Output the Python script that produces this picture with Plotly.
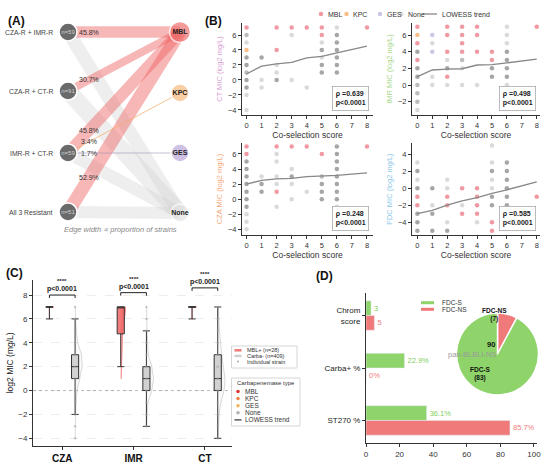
import numpy as np
import plotly.graph_objects as go

W, H = 550, 467
FONT = 'Liberation Sans'

# ---------------- Panel A data ----------------
GROUPS = ['CZA-R + IMR-R', 'CZA-R + CT-R', 'IMR-R + CT-R', 'All 3 Resistant']
GROUP_N = [59, 91, 59, 51]
TYPES = ['MBL', 'KPC', 'GES', 'None']
PCT_MBL = [45.8, 30.7, 45.8, 52.9]
PCT_KPC = [0, 0, 3.4, 0]
PCT_GES = [0, 0, 1.7, 0]
PCT_NONE = [54.2, 69.3, 49.1, 47.1]

# ---------------- Panel B data (score, log2 MIC) ----------------
SCORE_TICKS = list(range(9))
CT_MBL = [(0, 7), (2, 7), (3, 7), (4, 7), (5, 7), (8, 7), (5, 6), (2, 4)]
CT_KPC = [(0, 4)]
CT_GES = []
CT_NONE = [(6, 7, 1), (0, 6, 2), (3, 6, 1), (6, 6, 3), (0, 5, 1), (5, 5, 1), (6, 5, 3),
           (5, 4, 3), (6, 4, 3), (0, 3, 3), (1, 3, 3), (5, 3, 1), (6, 3, 3), (0, 2, 3),
           (2, 2, 1), (5, 2, 3), (6, 2, 3), (0, 1, 2), (2, 1, 1), (5, 1, 3), (6, 1, 3),
           (0, 0, 3), (1, 0, 1), (2, 0, 3), (3, 0, 1), (0, -1, 3), (1, -1, 1), (4, -1, 1),
           (0, -2, 1), (0, -4, 1)]

IMR_MBL = [(0, 7), (2, 7), (3, 7), (4, 7), (8, 7), (2, 6), (3, 6), (4, 6), (0, 5), (3, 5),
           (2, 4), (3, 4), (4, 4), (5, 4), (0, 3), (5, 3), (2, 1)]
IMR_KPC = [(0, 6)]
IMR_GES = [(1, 6), (1, 4)]
IMR_NONE = [(6, 7, 1), (6, 6, 1), (1, 5, 1), (6, 5, 1), (0, 4, 3), (6, 4, 3), (2, 3, 1),
            (3, 3, 2), (6, 3, 3), (0, 2, 3), (2, 2, 3), (3, 2, 1), (5, 2, 3), (6, 2, 3),
            (0, 1, 3), (1, 1, 1), (5, 1, 3), (6, 1, 3), (0, 0, 2), (1, 0, 1), (2, 0, 1),
            (3, 0, 1), (4, 0, 1), (6, 0, 1), (0, -1, 2), (0, -2, 2), (0, -3, 1)]

CZA_MBL = [(0, 7), (2, 7), (3, 7), (4, 7), (8, 7), (0, 6), (5, 6), (2, 1)]
CZA_KPC = []
CZA_GES = []
CZA_NONE = [(6, 7, 3), (2, 6, 1), (6, 6, 3), (0, 5, 3), (2, 5, 1), (6, 5, 3), (0, 4, 3),
            (3, 4, 1), (6, 4, 3), (0, 3, 3), (1, 3, 1), (2, 3, 1), (3, 3, 3), (5, 3, 2),
            (6, 3, 3), (0, 2, 3), (1, 2, 3), (2, 2, 1), (3, 2, 1), (5, 2, 3), (6, 2, 3),
            (0, 1, 3), (1, 1, 3), (4, 1, 1), (5, 1, 3), (6, 1, 3), (0, 0, 3), (3, 0, 1),
            (5, 0, 3), (6, 0, 3), (0, -1, 3), (2, -1, 1), (6, -1, 1), (0, -2, 1),
            (0, -3, 1), (0, -4, 1)]

FDC_MBL = [(3, 0), (4, 0), (0, -1), (2, -1), (4, -1), (8, -1), (0, -2), (2, -2), (4, -2),
           (3, -3), (4, -3), (5, -4), (5, -5)]
FDC_KPC = []
FDC_GES = []
FDC_NONE = [(5, 5, 1), (0, 3, 1), (5, 3, 1), (6, 3, 3), (0, 2, 3), (5, 2, 3), (6, 2, 3),
            (0, 1, 1), (2, 1, 1), (5, 1, 1), (6, 1, 3), (0, 0, 3), (1, 0, 3), (2, 0, 1),
            (5, 0, 1), (6, 0, 3), (5, -1, 3), (6, -1, 3), (1, -2, 1), (3, -2, 1),
            (5, -2, 3), (6, -2, 3), (0, -3, 3), (1, -3, 3), (6, -3, 3), (0, -4, 3),
            (2, -4, 1), (4, -4, 1), (6, -4, 1), (0, -5, 3), (1, -5, 3), (2, -5, 3)]

LOWESS_X = [0, 1, 2, 3, 4, 5, 6, 8]
CT_LOWESS = [0.8, 1.85, 2.15, 2.35, 2.95, 3.15, 3.6, 4.5]
IMR_LOWESS = [1.0, 1.8, 1.9, 1.95, 2.4, 2.45, 2.65, 3.1]
CZA_LOWESS = [2.0, 2.5, 2.7, 2.75, 3.0, 3.05, 3.15, 3.5]
FDC_LOWESS = [-3.0, -2.6, -2.0, -1.5, -1.1, -0.6, -0.2, 0.75]
RHO = ['0.639', '0.498', '0.248', '0.585']

# ---------------- Panel C data ----------------
DRUGS = ['CZA', 'IMR', 'CT']
MIC_VALUES = list(range(-4, 8))
CARBA_NEG_COUNTS = {
    'CZA': [2, 3, 8, 15, 30, 70, 110, 100, 40, 20, 8, 3],
    'IMR': [0, 5, 10, 25, 90, 120, 90, 30, 20, 10, 5, 4],
    'CT': [5, 8, 15, 30, 80, 90, 60, 50, 30, 20, 12, 9],
}
MBL_POS_COUNTS = {
    'CZA': [0, 0, 0, 0, 0, 0, 0, 0, 0, 0, 3, 25],
    'IMR': [0, 0, 0, 0, 0, 1, 1, 2, 3, 2, 3, 16],
    'CT': [0, 0, 0, 0, 0, 0, 0, 0, 0, 0, 2, 26],
}
NEG_Q1 = [1, 0, 0]
NEG_MED = [2, 1, 1]
NEG_Q3 = [3, 2, 3]
NEG_LO = [-2, -3, -4]
NEG_HI = [6, 5, 7]
MBL_Q1 = [7, 4.75, 7]
MBL_MED = [7, 7, 7]
MBL_Q3 = [7, 7, 7]
MBL_LO = [6, 2, 6]
MBL_HI = [7, 7, 7]
C_LEGEND_1 = ['MBL+ (n=28)', 'Carba- (n=409)', 'Individual strain']
C_LEGEND_2 = ['MBL', 'KPC', 'GES', 'None', 'LOWESS trend']

# ---------------- Panel D data ----------------
D_CATS = ['Chrom<br>score', 'Carba+ %', 'ST270 %']
FDC_S_VALS = [3, 22.9, 36.1]
FDC_NS_VALS = [5, 0, 85.7]
FDC_S_TEXT = ['3', '22.9%', '36.1%']
FDC_NS_TEXT = ['5', '0%', '85.7%']
PIE_LABELS = ['FDC-NS', 'FDC-S']
PIE_VALUES = [7, 83]

RED = '#f07a7a'
GREEN = '#8fd46a'
MBL_C = 'rgba(232,85,100,0.6)'
KPC_C = 'rgba(245,170,100,0.75)'
GES_C = 'rgba(170,160,210,0.6)'
NONE_C = 'rgba(150,150,150,0.3)'


def px(x):
    return x / W


def py(y):
    return 1 - y / H


fig = go.Figure()
ann = []
shapes = []


def legend_glyph(x, y, kind, color, size=4.5, width=1.3):
    # swatch drawn on the full-page pixel overlay (x8/y8)
    if kind == 'marker':
        fig.add_trace(go.Scatter(x=[x], y=[y], mode='markers', xaxis='x8', yaxis='y8',
                                 marker={'size': size, 'color': color},
                                 hoverinfo='skip', showlegend=False))
    else:
        fig.add_trace(go.Scatter(x=[x, x + size], y=[y, y], mode='lines', xaxis='x8',
                                 yaxis='y8', line={'color': color, 'width': width},
                                 hoverinfo='skip', showlegend=False))


def legend_text(x, y, text, size=7, color='#333', xanchor='left'):
    ann.append(dict(x=x, y=y, xref='x8', yref='y8', text=text, showarrow=False,
                    xanchor=xanchor, yanchor='middle', font={'size': size, 'color': color}))


def legend_box(x0, y0, x1, y1):
    fig.add_trace(go.Scatter(x=[x0, x1, x1, x0, x0], y=[y0, y0, y1, y1, y0], mode='lines',
                             fill='toself', fillcolor='white', xaxis='x8', yaxis='y8',
                             line={'color': '#cccccc', 'width': 0.8},
                             hoverinfo='skip', showlegend=False))


# ================= Panel A (pixel-space axis) =================
LX, RX = 68, 180
LY = [32, 91, 153, 212]
RY = [32, 93, 153, 213]
scale = 0.25
edge_sets = [
    (PCT_NONE, 3, 'rgba(205,205,205,0.35)'),
    (PCT_MBL, 0, 'rgba(240,95,95,0.45)'),
    (PCT_KPC, 1, 'rgba(245,170,100,0.8)'),
    (PCT_GES, 2, 'rgba(150,140,180,0.6)'),
]
for pcts, ti, col in edge_sets:
    for gi, p in enumerate(pcts):
        if p <= 0:
            continue
        fig.add_trace(go.Scatter(
            x=[LX, RX], y=[LY[gi], RY[ti]], mode='lines', xaxis='x7', yaxis='y7',
            line={'color': col, 'width': max(p * scale, 0.9)},
            hoverinfo='skip', showlegend=False))
        if ti != 3:
            t = 0.19
            ann.append(dict(x=LX + t * (RX - LX), y=LY[gi] + t * (RY[ti] - LY[gi]),
                            xref='x7', yref='y7', text=f'{p}%', showarrow=False,
                            font={'size': 7, 'color': '#333'}))

fig.add_trace(go.Scatter(
    x=[LX] * 4, y=LY, mode='markers+text', xaxis='x7', yaxis='y7',
    marker={'size': 18, 'color': '#6a6a6a', 'line': {'color': 'white', 'width': 1.5}},
    text=[f'n={n}' for n in GROUP_N], textfont={'size': 6, 'color': '#cfcfcf'},
    textposition='middle center', hoverinfo='skip', showlegend=False))
fig.add_trace(go.Scatter(
    x=[RX] * 4, y=RY, mode='markers+text', xaxis='x7', yaxis='y7',
    marker={'size': [21, 18, 18, 18],
            'color': ['#f07070', '#f9bb80', '#bba7d8', '#e4e4e4'],
            'line': {'color': 'white', 'width': 1.5}},
    text=[f'<b>{t}</b>' for t in TYPES], textfont={'size': 7, 'color': '#222'},
    textposition='middle center', hoverinfo='skip', showlegend=False))
for gi, g in enumerate(GROUPS):
    ann.append(dict(x=55, y=LY[gi], xref='x7', yref='y7', text=g, showarrow=False,
                    xanchor='right', font={'size': 6.8, 'color': '#444'}))
ann.append(dict(x=120, y=229, xref='x7', yref='y7',
                text='<i>Edge width ∝ proportion of strains</i>', showarrow=False,
                font={'size': 7.5, 'color': '#888'}))

# ================= Panel B =================
b_panels = [
    ('', CT_MBL, CT_KPC, CT_GES, CT_NONE, CT_LOWESS, 'CT MIC (log2 mg/L)', '#d9a3d6'),
    ('2', IMR_MBL, IMR_KPC, IMR_GES, IMR_NONE, IMR_LOWESS, 'IMR MIC (log2 mg/L)', '#a8d88c'),
    ('3', CZA_MBL, CZA_KPC, CZA_GES, CZA_NONE, CZA_LOWESS, 'CZA MIC (log2 mg/L)', '#f4aa7c'),
    ('4', FDC_MBL, FDC_KPC, FDC_GES, FDC_NONE, FDC_LOWESS, 'FDC MIC (log2 mg/L)', '#8ec9ea'),
]
for bi, (sfx, mbl, kpc, ges, none, low, ytitle, ycol) in enumerate(b_panels):
    xa, ya = 'x' + sfx, 'y' + sfx
    nop = [1 - (1 - 0.22) ** p[2] for p in none]
    fig.add_trace(go.Scatter(
        x=[p[0] for p in none], y=[p[1] for p in none], mode='markers', xaxis=xa, yaxis=ya,
        marker={'size': 4.5, 'color': '#555', 'opacity': nop},
        showlegend=False, hoverinfo='skip'))
    for pts, col in [(mbl, MBL_C), (kpc, KPC_C), (ges, GES_C)]:
        if not pts:
            continue
        fig.add_trace(go.Scatter(
            x=[p[0] for p in pts], y=[p[1] for p in pts], mode='markers',
            xaxis=xa, yaxis=ya, marker={'size': 4.5, 'color': col},
            showlegend=False, hoverinfo='skip'))
    fig.add_trace(go.Scatter(
        x=LOWESS_X, y=low, mode='lines', xaxis=xa, yaxis=ya,
        line={'color': '#888', 'width': 1.3}, showlegend=False, hoverinfo='skip'))
    ann.append(dict(x=1, y=0, xref=xa + ' domain', yref=ya + ' domain',
                    xanchor='right', yanchor='bottom', xshift=-4, yshift=4,
                    text='<b>ρ =' + RHO[bi] + '<br>p&lt;0.0001</b>', align='left',
                    showarrow=False, bordercolor='#aaa', borderwidth=0.8, borderpad=3,
                    bgcolor='white', font={'size': 7, 'color': '#222'}))

b_dom_x = [[px(242), px(373)], [px(412), px(540)]]
b_dom_y = [[py(115), py(23)], [py(235), py(143)]]
b_xr = [[-0.3, 8.4], [-0.36, 8.22]]
b_yr = [[-4.67, 7.6], [-3.6, 7.44], [-4.76, 7.46], [-5.5, 5.3]]
axis_common = dict(showline=True, linecolor='#333', linewidth=1, ticks='outside',
                   ticklen=3, tickcolor='#333', showgrid=False, zeroline=False,
                   automargin=False, tickfont={'size': 7.5, 'color': '#333'})
layout_axes = {}
for bi, panel in enumerate(b_panels):
    sfx, ytitle, ycol = panel[0], panel[6], panel[7]
    col, row = bi % 2, bi // 2
    layout_axes['xaxis' + sfx] = dict(
        axis_common, domain=b_dom_x[col], range=b_xr[col], anchor='y' + sfx,
        tickvals=SCORE_TICKS,
        title={'text': 'Co-selection score', 'font': {'size': 8.5, 'color': '#333'},
               'standoff': 2})
    layout_axes['yaxis' + sfx] = dict(
        axis_common, domain=b_dom_y[row], range=b_yr[bi], anchor='x' + sfx, dtick=2,
        title={'text': ytitle, 'font': {'size': 7.5, 'color': ycol}, 'standoff': 4})

# B legend (top strip)
for (mx, tx, lab, col) in [(321, 326, 'MBL', MBL_C), (346.5, 351, 'KPC', KPC_C),
                           (380, 385, 'GES', GES_C), (401.5, 406, 'None', NONE_C)]:
    legend_glyph(mx, 14, 'marker', col)
    legend_text(tx, 14, lab)
legend_glyph(423, 14, 'line', '#888', size=14)
legend_text(440, 14, 'LOWESS trend')

# ================= Panel C =================
OFF = 0.18
for di, d in enumerate(DRUGS):
    neg = np.repeat(MIC_VALUES, CARBA_NEG_COUNTS[d])
    pos = np.repeat(MIC_VALUES, MBL_POS_COUNTS[d])
    xn, xp = di + OFF, di - OFF
    fig.add_trace(go.Violin(
        x=np.full(len(neg), xn), y=neg, xaxis='x5', yaxis='y5', side='positive',
        width=0.2, points=False, line={'color': 'rgba(175,175,175,0.6)', 'width': 0.8},
        fillcolor='rgba(225,225,225,0.2)', showlegend=False, hoverinfo='skip',
        spanmode='hard'))
    fig.add_trace(go.Violin(
        x=np.full(len(pos), xp), y=pos, xaxis='x5', yaxis='y5', side='positive',
        width=0.13, points=False, line={'color': 'rgba(240,90,90,0.8)', 'width': 0.8},
        fillcolor='rgba(240,110,110,0.55)', showlegend=False, hoverinfo='skip',
        spanmode='hard'))
    present = [v for v, c in zip(MIC_VALUES, CARBA_NEG_COUNTS[d]) if c > 0]
    fig.add_trace(go.Scatter(
        x=[xn] * len(present), y=present, mode='markers', xaxis='x5', yaxis='y5',
        marker={'size': 2.5, 'color': 'rgba(160,160,160,0.55)'}, showlegend=False,
        hoverinfo='skip'))
    fig.add_trace(go.Box(
        x=[xn], q1=[NEG_Q1[di]], median=[NEG_MED[di]], q3=[NEG_Q3[di]],
        lowerfence=[NEG_LO[di]], upperfence=[NEG_HI[di]], xaxis='x5', yaxis='y5',
        width=0.1, whiskerwidth=1, fillcolor='rgba(205,205,205,0.9)',
        line={'color': '#333', 'width': 1}, showlegend=False, hoverinfo='skip'))
    fig.add_trace(go.Box(
        x=[xp], q1=[MBL_Q1[di]], median=[MBL_MED[di]], q3=[MBL_Q3[di]],
        lowerfence=[MBL_LO[di]], upperfence=[MBL_HI[di]], xaxis='x5', yaxis='y5',
        width=0.1, whiskerwidth=1, fillcolor='rgba(240,100,100,0.85)',
        line={'color': '#333', 'width': 1}, showlegend=False, hoverinfo='skip'))

BRACKET_Y = [8.0, 8.2, 8.6]
for di in range(3):
    by = BRACKET_Y[di]
    fig.add_trace(go.Scatter(
        x=[di - OFF, di - OFF, di + OFF, di + OFF], y=[by - 0.25, by, by, by - 0.25],
        mode='lines', xaxis='x5', yaxis='y5', line={'color': '#222', 'width': 1},
        showlegend=False, hoverinfo='skip', cliponaxis=False))
    ann.append(dict(x=di, y=by, xref='x5', yref='y5', yanchor='bottom', yshift=0,
                    text='<b>p&lt;0.0001</b>', showarrow=False,
                    font={'size': 7, 'color': '#222'}))
    ann.append(dict(x=di, y=by, xref='x5', yref='y5', yanchor='bottom', yshift=9,
                    text='<b>****</b>', showarrow=False, font={'size': 6, 'color': '#222'}))

shapes.append(dict(type='line', xref='x5 domain', yref='y5', x0=0, x1=1, y0=0, y1=0,
                   line={'color': '#bbb', 'width': 1, 'dash': 'dot'}, layer='below'))

layout_axes['xaxis5'] = dict(
    axis_common, domain=[px(33), px(232)], range=[-0.41, 2.38], anchor='y5',
    tickvals=[0, 1, 2], ticktext=[f'<b>{d}</b>' for d in DRUGS],
    tickfont={'size': 10, 'color': '#111'})
layout_axes['yaxis5'] = dict(
    axis_common, domain=[py(445.7), py(280)], range=[-4.62, 9.26], anchor='x5',
    tickvals=list(range(-4, 9, 2)), showgrid=True, gridcolor='rgba(0,0,0,0.07)',
    griddash='dash', tickfont={'size': 8, 'color': '#333'},
    title={'text': 'log2 MIC (mg/L)', 'font': {'size': 8.5, 'color': '#222'}, 'standoff': 3})

# C legends (boxes on the pixel overlay)
legend_box(231.5, 346, 297, 368)
for i, (lab, kind, col) in enumerate(zip(C_LEGEND_1, ['line', 'line', 'marker'],
                                         [RED, '#cfcfcf', '#aaa'])):
    yy = 350.3 + i * 5.6
    if kind == 'line':
        legend_glyph(234.5, yy, 'line', col, size=7, width=2.5)
    else:
        legend_glyph(238, yy, 'marker', col, size=2)
    legend_text(245, yy, lab, size=5.5)
legend_box(231.5, 378, 300, 426)
legend_text(266, 383, 'Carbapenemase type', size=6, xanchor='center')
for i, (lab, col) in enumerate(zip(C_LEGEND_2,
                                   ['#e03030', '#f08040', '#f2b35a', '#b0b0b0', '#333'])):
    yy = 391.5 + i * 7.1
    if lab == 'LOWESS trend':
        legend_glyph(234.5, yy, 'line', col, size=7, width=1.2)
    else:
        legend_glyph(238, yy, 'marker', col, size=3.5)
    legend_text(242.5, yy, lab, size=6.5)

# ================= Panel D =================
BAR_OFF, BAR_W = 0.14, 0.28
cats_idx = np.arange(len(D_CATS))
fig.add_trace(go.Bar(
    y=cats_idx - BAR_OFF, x=FDC_S_VALS, orientation='h', width=BAR_W, xaxis='x6',
    yaxis='y6', marker={'color': GREEN}, text=FDC_S_TEXT, textposition='outside',
    textfont={'size': 7.5, 'color': '#7fcf5a'}, cliponaxis=False, showlegend=False))
fig.add_trace(go.Bar(
    y=cats_idx + BAR_OFF, x=FDC_NS_VALS, orientation='h', width=BAR_W, xaxis='x6',
    yaxis='y6', marker={'color': RED}, text=FDC_NS_TEXT, textposition='outside',
    textfont={'size': 7.5, 'color': '#f08080'}, cliponaxis=False, showlegend=False))

layout_axes['xaxis6'] = dict(
    axis_common, domain=[px(366), px(537)], range=[0, 101.8], anchor='y6', dtick=20,
    tickfont={'size': 8, 'color': '#333'})
layout_axes['yaxis6'] = dict(
    axis_common, domain=[py(443), py(293)], range=[2.43, -0.43], anchor='x6',
    tickvals=list(cats_idx), ticktext=D_CATS, tickfont={'size': 8, 'color': '#222'})

fig.add_trace(go.Pie(
    labels=PIE_LABELS, values=PIE_VALUES, sort=False, direction='clockwise', rotation=0,
    marker={'colors': [RED, GREEN], 'line': {'color': 'white', 'width': 1.5}},
    textinfo='none', hoverinfo='skip', showlegend=False,
    domain={'x': [px(456.5), px(538.5)], 'y': [py(395), py(313)]}))
ann += [
    dict(x=px(509), y=py(325), xref='paper', yref='paper', showarrow=False,
         text=f'<b>{PIE_LABELS[0]}<br>({PIE_VALUES[0]})</b>',
         font={'size': 6.5, 'color': '#111'}),
    dict(x=px(497), y=py(351), xref='paper', yref='paper', showarrow=False,
         text=f'<b>{sum(PIE_VALUES)}</b>', font={'size': 7.5, 'color': '#111'}),
    dict(x=px(498), y=py(361), xref='paper', yref='paper', showarrow=False,
         text='pan-BLBLI-NS', font={'size': 7.5, 'color': '#9a9a9a'}),
    dict(x=px(493), y=py(384), xref='paper', yref='paper', showarrow=False,
         text=f'<b>{PIE_LABELS[1]}<br>({PIE_VALUES[1]})</b>',
         font={'size': 6.5, 'color': '#111'}),
]
# D legend
for i, (lab, col) in enumerate([('FDC-S', GREEN), ('FDC-NS', RED)]):
    yy = 302.7 + i * 6.6
    legend_glyph(421, yy, 'line', col, size=13, width=3)
    legend_text(440, yy, lab, size=6.5)

# panel letters
for lab, x, y in [('(A)', 6, 12), ('(B)', 203, 12), ('(C)', 4, 273), ('(D)', 314, 276)]:
    ann.append(dict(x=px(x), y=py(y), xref='paper', yref='paper', xanchor='left',
                    text=f'<b>{lab}</b>', showarrow=False, font={'size': 12, 'color': '#111'}))

layout_axes['xaxis7'] = dict(domain=[0, px(200)], range=[0, 200], visible=False,
                             anchor='y7', fixedrange=True)
layout_axes['yaxis7'] = dict(domain=[py(250), 1], range=[250, 0], visible=False,
                             anchor='x7', fixedrange=True)
layout_axes['xaxis8'] = dict(domain=[0, 1], range=[0, W], visible=False,
                             anchor='y8', fixedrange=True)
layout_axes['yaxis8'] = dict(domain=[0, 1], range=[H, 0], visible=False,
                             anchor='x8', fixedrange=True)

fig.update_layout(
    width=W, height=H, margin={'l': 0, 'r': 0, 't': 0, 'b': 0},
    paper_bgcolor='white', plot_bgcolor='rgba(0,0,0,0)',
    font={'family': FONT, 'color': '#222'},
    annotations=ann, shapes=shapes, barmode='overlay', showlegend=False,
    **layout_axes,
)

# the page's default body margin would push the fixed-size figure off the window
fig.write_html('out.html', config={'displayModeBar': False},
               post_script="document.body.style.margin='0';")
